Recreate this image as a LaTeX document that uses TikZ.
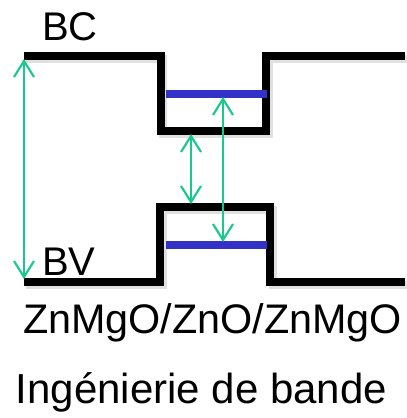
\documentclass[tikz,border=0pt]{standalone}
\usepackage{fontspec}
\setmainfont{Liberation Sans}
\usetikzlibrary{arrows.meta}
\definecolor{BandBlack}{RGB}{0,0,0}
\definecolor{LevelBlue}{RGB}{50,50,200}
\definecolor{GapGreen}{RGB}{25,200,145}

\begin{document}
\begin{tikzpicture}[x=0.75pt,y=-0.75pt,>={Straight Barb[length=12pt,width=15pt]},
    band/.style={line width=5.5pt,BandBlack,line join=miter},
    shadow/.style={line width=5.5pt,black!12},
    level/.style={line width=5.5pt,LevelBlue},
    gap/.style={<->,line width=1.6pt,GapGreen},
    lbl/.style={inner sep=0pt,anchor=base,font=\fontsize{31}{37}\selectfont}]
  \useasboundingbox (0,0) rectangle (407,418);
  % band edges (light shadow first)
  \draw[shadow] (26,59)--(163,59)--(163,134)--(269,134)--(269,59)--(407,59);
  \draw[shadow] (26,285)--(163,285)--(163,210)--(273,210)--(273,285)--(407,285);
  \draw[band] (24,56)--(161,56)--(161,131)--(266,131)--(266,56)--(405,56);
  \draw[band] (24,282)--(160,282)--(160,207)--(270,207)--(270,282)--(405,282);
  % confined levels
  \draw[level] (166,94)--(267,94);
  \draw[level] (166,245)--(267,245);
  % arrow ends
  \coordinate (bcL) at (24,59);
  \coordinate (bvL) at (24,279);
  \coordinate (wellC) at (191,134);
  \coordinate (wellV) at (191,204);
  \coordinate (lvlC) at (223,97);
  \coordinate (lvlV) at (223,242);
  \draw[gap] (bcL) -- (bvL);
  \draw[gap] (wellC) -- (wellV);
  \draw[gap] (lvlC) -- (lvlV);
  % labels
  \node[lbl,anchor=base west,font=\fontsize{30}{36}\selectfont] (bc) at (42,40) {BC};
  \node[lbl,anchor=base west,font=\fontsize{30}{36}\selectfont] (bv) at (42,275) {BV};
  \node[lbl] (stack) at (212.5,333) {ZnMgO/ZnO/ZnMgO};
  \node[lbl,font=\fontsize{31.5}{38}\selectfont] (title) at (201.5,403) {Ingénierie de bande};
\end{tikzpicture}
\end{document}
